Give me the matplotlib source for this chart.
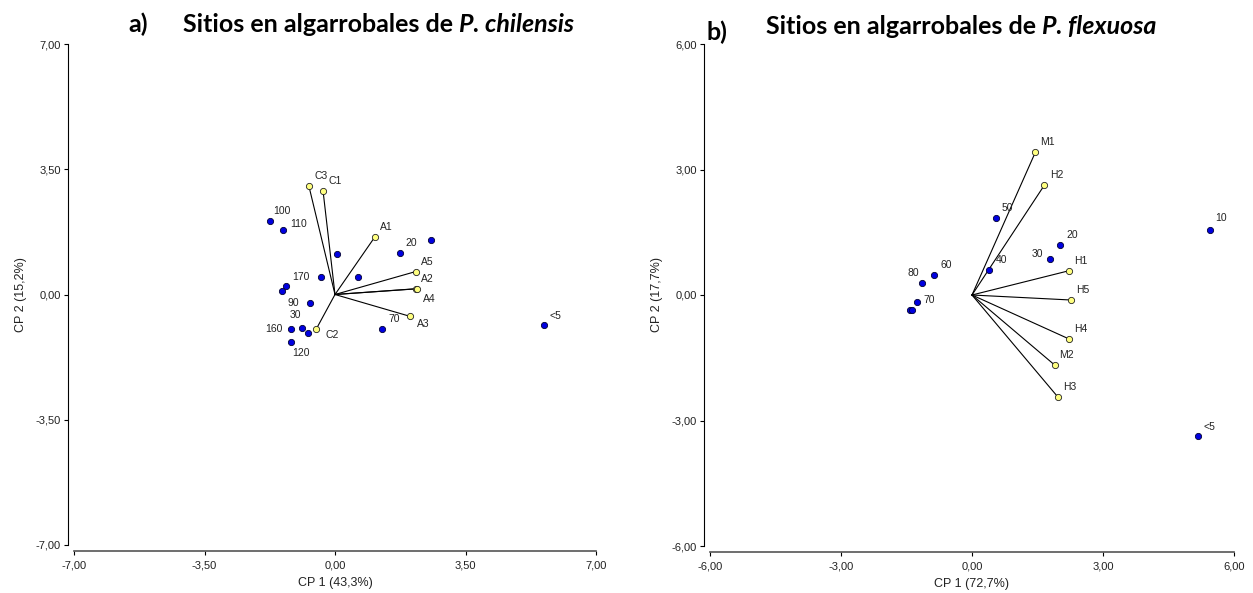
import matplotlib
matplotlib.use('Agg')
import matplotlib.pyplot as plt

plt.rcParams['font.family'] = ['Liberation Sans', 'DejaVu Sans']

# a) sitios en algarrobales de P. chilensis
sitios_a = ['100', '110', '', '20', '', '170', '', '', '', '90', '30', '', '160', '120', '70', '<5']
sx_a = [-1.74, -1.39, 0.06, 1.73, 2.57, -0.37, 0.62, -1.32, -1.41, -0.67, -0.88, -0.72, -1.19, -1.17, 1.27, 5.60]
sy_a = [2.04, 1.81, 1.12, 1.15, 1.52, 0.50, 0.50, 0.23, 0.09, -0.25, -0.93, -1.07, -0.96, -1.34, -0.96, -0.84]
vars_a = ['C3', 'C1', 'A1', 'A5', 'A2', 'A4', 'A3', 'C2']
vx_a = [-0.70, -0.32, 1.07, 2.16, 2.16, 2.21, 2.01, -0.50]
vy_a = [3.03, 2.89, 1.61, 0.64, 0.16, 0.16, -0.61, -0.96]
ticks_a = [-7.0, -3.5, 0.0, 3.5, 7.0]

# b) sitios en algarrobales de P. flexuosa
sitios_b = ['50', '20', '30', '40', '60', '80', '70', '', '', '10', '<5']
sx_b = [0.54, 2.02, 1.79, 0.40, -0.86, -1.14, -1.26, -1.42, -1.37, 5.44, 5.18]
sy_b = [1.83, 1.20, 0.86, 0.59, 0.47, 0.29, -0.17, -0.36, -0.36, 1.56, -3.37]
vars_b = ['M1', 'H2', 'H1', 'H5', 'H4', 'M2', 'H3']
vx_b = [1.45, 1.66, 2.22, 2.27, 2.22, 1.90, 1.96]
vy_b = [3.41, 2.63, 0.58, -0.12, -1.05, -1.68, -2.43]
ticks_b = [-6.0, -3.0, 0.0, 3.0, 6.0]

# label offsets (points) that are not the usual up-right one
default_off = (8.6, 7.2)
off_a = {'A4': (8.4, -7.2), 'A3': (9.4, -5.3), 'C2': (11.5, -4.1), '110': (11.3, 4.3),
         '170': (-14.9, 0), '90': (-12, 0), '30': (-4.8, 8.9), '160': (-12, 0),
         '120': (7.2, -7.7), '<5': (8.6, 6.5)}
off_b = {'30': (-9.4, 3.4), '80': (-6.2, 7.2), '70': (9.1, 1.2), '10': (8.6, 8.6), '<5': (7.9, 6.5)}


def fmt(v):
    return '{:.2f}'.format(v).replace('.', ',')


def biplot(ax, sx, sy, sitios, vx, vy, vars_, ticks, offs, xlab, ylab):
    for x, y in zip(vx, vy):
        ax.plot([0, x], [0, y], color='black', lw=0.8, zorder=1)
    ax.plot(sx, sy, 'o', ms=4.5, mfc='#0000e0', mec='#000033', mew=0.6, ls='none', zorder=3)
    ax.plot(vx, vy, 'o', ms=4.5, mfc='#ffff80', mec='#222222', mew=0.6, ls='none', zorder=3)
    for name, x, y in list(zip(sitios, sx, sy)) + list(zip(vars_, vx, vy)):
        if name == '':
            continue
        ax.annotate(name, (x, y), xytext=offs.get(name, default_off), textcoords='offset points',
                    ha='center', va='center', fontsize=7.5, color='#222222')
    ax.set_xlim(ticks[0], ticks[-1])
    ax.set_ylim(ticks[0], ticks[-1])
    ax.set_xticks(ticks)
    ax.set_yticks(ticks)
    ax.set_xticklabels([fmt(t) for t in ticks])
    ax.set_yticklabels([fmt(t) for t in ticks])
    ax.tick_params(direction='out', length=3, width=0.8, labelsize=8, labelcolor='#222222')
    ax.tick_params(axis='x', pad=4)
    ax.tick_params(axis='y', pad=2)
    for s in ['top', 'right']:
        ax.spines[s].set_visible(False)
    ax.spines['left'].set_position(('outward', 4.5))
    ax.spines['bottom'].set_position(('outward', 4.5))
    ax.spines['left'].set_linewidth(0.8)
    ax.spines['bottom'].set_linewidth(1.2)
    ax.spines['bottom'].set_color('#555555')
    ax.set_xlabel(xlab, fontsize=9, color='#222222', labelpad=4)
    ax.set_ylabel(ylab, fontsize=9, color='#222222', labelpad=6)


fig = plt.figure(figsize=(12.53, 5.93), dpi=100)
ax1 = fig.add_axes([74 / 1253, 48 / 593, 522 / 1253, 501 / 593])
ax2 = fig.add_axes([710 / 1253, 47 / 593, 524 / 1253, 502 / 593])

biplot(ax1, sx_a, sy_a, sitios_a, vx_a, vy_a, vars_a, ticks_a, off_a, 'CP 1 (43,3%)', 'CP 2 (15,2%)')
biplot(ax2, sx_b, sy_b, sitios_b, vx_b, vy_b, vars_b, ticks_b, off_b, 'CP 1 (72,7%)', 'CP 2 (17,7%)')

# titles: bold text followed by italic species name
renderer = fig.canvas.get_renderer()


def title(xl, yl, letter, xt, yt, text, species):
    fig.text(xl, yl, letter, fontsize=18, fontweight='bold', family='Lato', va='baseline')
    t = fig.text(xt, yt, text, fontsize=18, fontweight='bold', family='Lato', va='baseline')
    bb = t.get_window_extent(renderer)
    fig.text(bb.x1 / fig.bbox.width, yt, species, fontsize=18, fontweight='bold',
             style='italic', family='Lato', va='baseline')


title(128 / 1253, 1 - 32 / 593, 'a)', 183 / 1253, 1 - 32 / 593, 'Sitios en algarrobales de ', 'P. chilensis')
title(707 / 1253, 1 - 40 / 593, 'b)', 766 / 1253, 1 - 34 / 593, 'Sitios en algarrobales de ', 'P. flexuosa')

fig.savefig('out.png', dpi=100)
